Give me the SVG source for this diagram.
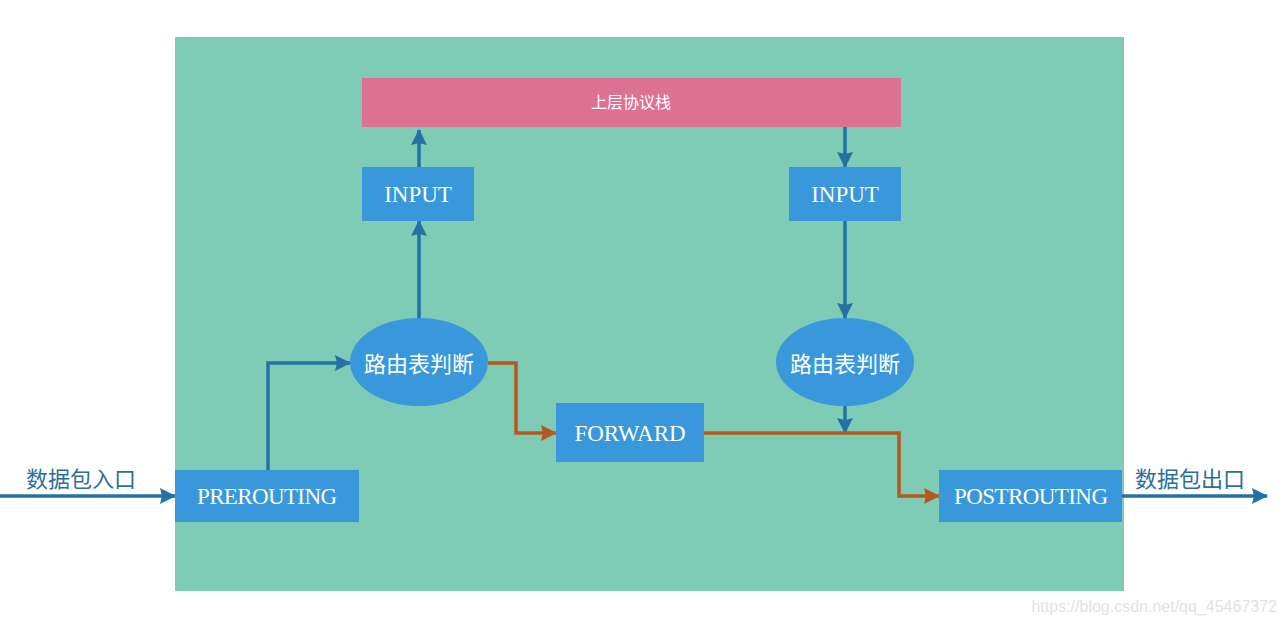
<svg xmlns="http://www.w3.org/2000/svg" width="1285" height="625" viewBox="0 0 1285 625">
<defs>
<marker id="ab" markerUnits="userSpaceOnUse" markerWidth="18" markerHeight="18" refX="15" refY="9" orient="auto"><path d="M0,1 L16,9 L0,17 L2,9 Z" fill="#2472A4"/></marker>
<marker id="ao" markerUnits="userSpaceOnUse" markerWidth="18" markerHeight="18" refX="15" refY="9" orient="auto"><path d="M0,1 L16,9 L0,17 L2,9 Z" fill="#B6581F"/></marker>
<style>
.box{fill:#3898DB}
.lbl{font-family:"Liberation Serif","Noto Sans CJK SC",serif;font-size:23px;fill:#fff;text-anchor:middle;dominant-baseline:central}
.cj{font-family:"Noto Sans CJK SC",sans-serif;font-size:22px;fill:#fff;text-anchor:middle;dominant-baseline:central}
.out{font-family:"Noto Sans CJK SC",sans-serif;font-size:22px;fill:#2E6E9E;text-anchor:middle}
.b{fill:none;stroke:#2472A4;stroke-width:3.5;marker-end:url(#ab)}
.o{fill:none;stroke:#B6581F;stroke-width:3.5;marker-end:url(#ao)}
</style>
</defs>
<rect width="1285" height="625" fill="#fff"/>
<rect id="bg" x="175" y="37" width="949" height="554" fill="#7ECCB5"/>
<g id="connectors">
<path class="b" d="M0,496 H175"/>
<path class="b" d="M268,470 V363 H350"/>
<path class="b" d="M419,318 V221"/>
<path class="b" d="M419,167 V130"/>
<path class="b" d="M845,127 V167"/>
<path class="b" d="M845,221 V318"/>
<path class="b" d="M845,406 V433"/>
<path class="o" d="M488,363 H516 V433 H556"/>
<path class="o" d="M704,433 H899 V496 H939"/>
<path class="b" d="M1122,496 H1267"/>
</g>
<g id="stack"><rect x="362" y="78" width="539" height="49" fill="#DD7193"/><text class="cj" x="631" y="101" style="font-size:16px">上层协议栈</text></g>
<g id="input1"><rect class="box" x="362" y="167" width="112" height="54"/><text class="lbl" x="418" y="194">INPUT</text></g>
<g id="input2"><rect class="box" x="789" y="167" width="112" height="54"/><text class="lbl" x="845" y="194">INPUT</text></g>
<g id="route1"><ellipse class="box" cx="419" cy="362" rx="69" ry="44"/><text class="cj" x="419" y="362">路由表判断</text></g>
<g id="route2"><ellipse class="box" cx="845" cy="362" rx="69" ry="44"/><text class="cj" x="845" y="362">路由表判断</text></g>
<g id="forward"><rect class="box" x="556" y="403" width="148" height="59"/><text class="lbl" x="630" y="433">FORWARD</text></g>
<g id="prerouting"><rect class="box" x="175" y="470" width="184" height="52"/><text class="lbl" x="267" y="496" textLength="140">PREROUTING</text></g>
<g id="postrouting"><rect class="box" x="939" y="470" width="183" height="52"/><text class="lbl" x="1031" y="496" textLength="154">POSTROUTING</text></g>
<g id="in-label"><text class="out" x="81" y="487">数据包入口</text></g>
<g id="out-label"><text class="out" x="1190" y="487">数据包出口</text></g>
<text x="1277" y="612" font-family="Liberation Sans,sans-serif" font-size="16" fill="#E2E2E2" text-anchor="end">https://blog.csdn.net/qq_45467372</text>
</svg>
